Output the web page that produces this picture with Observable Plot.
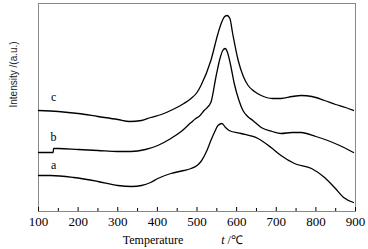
<!DOCTYPE html>
<html><head><meta charset="utf-8">
<script src="https://cdn.jsdelivr.net/npm/d3@7"></script>
<script src="https://cdn.jsdelivr.net/npm/@observablehq/plot@0.6"></script>
<style>body{margin:0;background:#fff}</style>
</head><body><div id="chart"></div>
<script>
// Temperature (°C) and intensity (arbitrary units)
const tempA = [100,130,189,250,300,335,360,383,401,434,467,485,500,510,525,535,545,553,563,572,581,611,654,687,712,746,789,822,847,870,895];
const intA  = [36,36,34,30,26,25,26,29,33,38,41,43,46,50,61,71,80,86,88,84,81,78,73,64,56,48,43,34,24,14,9];
const tempB = [100,137,138,150,200,250,300,333,370,401,434,460,485,497,505,518,535,548,558,565,571,577,585,594,606,616,628,641,662,690,712,740,763,800,830,860,895];
const intB  = [59,59,63,63,62,61,60,60,62,66,73,80,89,93,95,101,109,135,153,161,163,159,146,128,111,101,95,91,84,80,78,79,79,75,71,66,59];
const tempC = [100,150,200,250,300,330,360,383,410,439,467,485,500,510,535,553,562,570,576,583,590,604,617,629,645,662,690,712,740,763,790,822,850,875,895];
const intC  = [101,100,98,95,92,90,91,94,97,102,108,113,119,126,151,178,189,195,196,193,178,151,135,126,120,116,113,113,115,116,115,111,107,104,101];
const curveLabels = ["a","b","c"];
const labelTemp = [138,138,138];
const labelInt = [46,74,114];
const majorTicks = [100,200,300,400,500,600,700,800,900];
const minorTicks = [150,250,350,450,550,650,750,850];

const rows = (t, v, s) => t.map((x, i) => ({t: x, v: v[i], s}));
const data = [...rows(tempA,intA,"a"), ...rows(tempB,intB,"b"), ...rows(tempC,intC,"c")];
const labels = curveLabels.map((s,i)=>({s, t: labelTemp[i], v: labelInt[i]}));

const serif = "Liberation Serif";
const sans = "Liberation Sans";
const chart = Plot.plot({
  width: 368, height: 249,
  marginLeft: 38, marginRight: 13, marginTop: 3, marginBottom: 38,
  style: {background: "#fff", color: "#000", fontFamily: serif, fontSize: "13px"},
  x: {domain: [100, 900], ticks: majorTicks, tickSize: 0, tickPadding: 5, label: null},
  y: {domain: [0, 208], axis: null},
  marks: [
    Plot.frame({stroke: "#888", strokeWidth: 1}),
    Plot.ruleX(majorTicks, {y1: 0, y2: 4, stroke: "#000"}),
    Plot.ruleX(minorTicks, {y1: 0, y2: 3, stroke: "#000"}),
    Plot.line(data, {x: "t", y: "v", z: "s", stroke: "#000", strokeWidth: 1.3, curve: "monotone-x"}),
    Plot.text(labels, {x: "t", y: "v", text: "s", fontSize: 12, fontFamily: serif}),
    Plot.text(["Intensity /(a.u.)"], {frameAnchor: "left", dx: -25, rotate: -90, fill: "#222", fontSize: 10, fontFamily: sans})
  ]
});
document.getElementById("chart").appendChild(chart);
const svg = d3.select(chart);
const t = svg.append("text").attr("x", 153).attr("y", 244)
  .style("font-family", serif).style("font-size", "12px").attr("fill", "#000");
t.append("tspan").text("Temperature");
t.append("tspan").attr("x", 232).style("font-style", "italic").text("t");
t.append("tspan").text(" /℃");
</script></body></html>
